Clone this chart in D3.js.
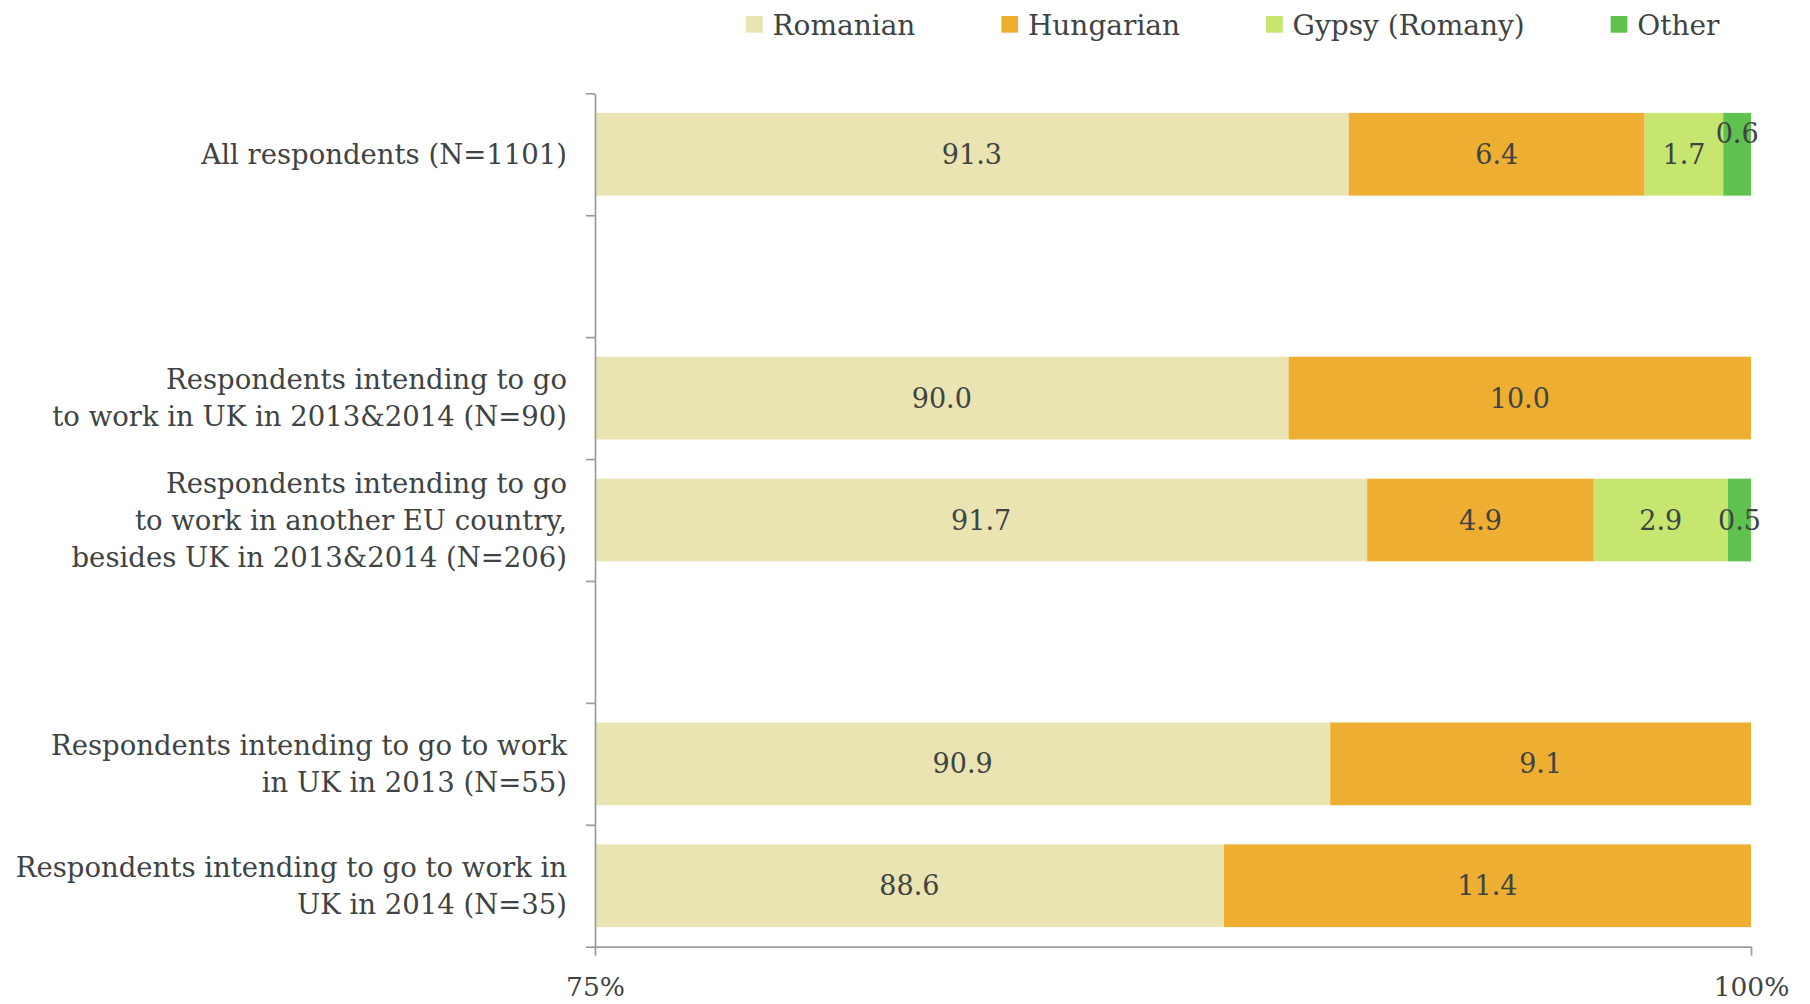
<!DOCTYPE html>
<html>
<head>
<meta charset="utf-8">
<script src="https://cdn.jsdelivr.net/npm/d3@7"></script>
<style>
  html, body { margin: 0; padding: 0; background: #ffffff; }
  svg { display: block; }
  text { font-family: "DejaVu Serif", Georgia, serif; fill: #3e4343; }
</style>
</head>
<body>
<svg id="chart" width="1810" height="1004"></svg>
<script>
// Row labels (empty strings are spacer rows between the groups)
const categories = [
  "All respondents (N=1101)",
  "",
  "Respondents intending to go\nto work in UK in 2013&2014 (N=90)",
  "Respondents intending to go\nto work in another EU country,\nbesides UK in 2013&2014 (N=206)",
  "",
  "Respondents intending to go to work\nin UK in 2013 (N=55)",
  "Respondents intending to go to work in\nUK in 2014 (N=35)"
];

// Ethnic group shares (%), one value per row
const seriesNames = ["Romanian", "Hungarian", "Gypsy (Romany)", "Other"];
const romanian  = [91.3, null, 90.0, 91.7, null, 90.9, 88.6];
const hungarian = [6.4,  null, 10.0, 4.9,  null, 9.1,  11.4];
const gypsy     = [1.7,  null, 0,    2.9,  null, 0,    0];
const other     = [0.6,  null, 0,    0.5,  null, 0,    0];

// Axis range and tick labels
const xDomain = [75, 100];
const xTicks = [75, 100];

const colors = ["#e9e4b1", "#eeae31", "#c6e66f", "#5fc24f"];

const svg = d3.select("#chart");
const plot = { left: 595, right: 1751, top: 93.3, bottom: 946.7 };

const rows = categories.map((c, i) => ({
  idx: i,
  label: c,
  "Romanian": romanian[i] || 0,
  "Hungarian": hungarian[i] || 0,
  "Gypsy (Romany)": gypsy[i] || 0,
  "Other": other[i] || 0,
  empty: romanian[i] == null
}));

const x = d3.scaleLinear().domain(xDomain).range([plot.left, plot.right]);
const y = d3.scaleBand()
  .domain(d3.range(categories.length))
  .range([plot.top, plot.bottom])
  .paddingInner(0.3216)
  .paddingOuter(0.1608);

const stacked = d3.stack().keys(seriesNames)(rows.filter(r => !r.empty));

// Bars are clipped to the visible part of the axis (75%–100%)
svg.append("clipPath").attr("id", "plotClip")
  .append("rect")
  .attr("x", plot.left).attr("y", 0)
  .attr("width", plot.right - plot.left + 20).attr("height", 1004);

const barG = svg.append("g").attr("clip-path", "url(#plotClip)");
stacked.forEach((layer, k) => {
  barG.append("g")
    .attr("fill", colors[k])
    .selectAll("rect")
    .data(layer.filter(d => d[1] - d[0] > 0))
    .join("rect")
    .attr("x", d => x(Math.max(d[0], xDomain[0])))
    .attr("y", d => y(d.data.idx))
    .attr("width", d => x(d[1]) - x(Math.max(d[0], xDomain[0])))
    .attr("height", y.bandwidth());
});

// Value labels, centred on the visible part of each segment
const labelG = svg.append("g");
stacked.forEach((layer, k) => {
  labelG.selectAll(null)
    .data(layer.filter(d => d[1] - d[0] > 0))
    .join("text")
    .attr("text-anchor", "middle")
    .attr("font-size", 27)
    .attr("x", d => (x(Math.max(d[0], xDomain[0])) + x(d[1])) / 2)
    .attr("y", d => {
      const c = y(d.data.idx) + y.bandwidth() / 2 + 9.5;
      // the small "Other" label on the first row sits raised above its neighbour
      return (k === 3 && d.data.idx === 0) ? c - 21 : c;
    })
    .text(d => (d[1] - d[0]).toFixed(1));
});

// Vertical category axis with ticks at the band boundaries
const step = y.step();
const boundary = d3.scaleLinear()
  .domain([0, categories.length])
  .range([y(0) - y.paddingOuter() * step, y(0) - y.paddingOuter() * step + categories.length * step]);
const yAxis = svg.append("g")
  .attr("transform", `translate(${plot.left},0)`)
  .call(d3.axisLeft(boundary).tickValues(d3.range(categories.length + 1)).tickFormat("").tickSize(9).tickSizeOuter(0));
yAxis.selectAll("path, line").attr("stroke", "#9c9c9c").attr("stroke-width", 1.7);

// Horizontal value axis
const xAxis = svg.append("g")
  .attr("transform", `translate(0,${plot.bottom})`)
  .call(d3.axisBottom(x).tickValues(xTicks).tickFormat(d => d + "%").tickSize(9).tickSizeOuter(0));
xAxis.selectAll("path, line").attr("stroke", "#9c9c9c").attr("stroke-width", 1.7);
xAxis.selectAll("text")
  .attr("y", 49.5).attr("dy", 0)
  .attr("font-size", 26.5)
  .attr("font-family", "DejaVu Serif, serif")
  .attr("fill", "#3e4343");

// Row labels, right-aligned next to the axis, centred on each band
const lineH = 37;
const rowLabels = svg.append("g");
rows.filter(r => r.label).forEach(r => {
  const lines = r.label.split("\n");
  const cy = y(r.idx) + y.bandwidth() / 2;
  const t = rowLabels.append("text")
    .attr("text-anchor", "end")
    .attr("font-size", 27.5);
  lines.forEach((ln, i) => {
    t.append("tspan")
      .attr("x", 567)
      .attr("y", cy + (i - (lines.length - 1) / 2) * lineH + 9.5)
      .text(ln);
  });
});

// Legend across the top
const legend = svg.append("g");
let lx = 746;
seriesNames.forEach((name, k) => {
  const g = legend.append("g").attr("transform", `translate(${lx},0)`);
  g.append("rect").attr("x", 0).attr("y", 16).attr("width", 16.7).attr("height", 16.7).attr("fill", colors[k]);
  const t = g.append("text").attr("x", 26.5).attr("y", 35).attr("font-size", 28).text(name);
  lx += 26.5 + t.node().getComputedTextLength() + 86;
});
</script>
</body>
</html>
